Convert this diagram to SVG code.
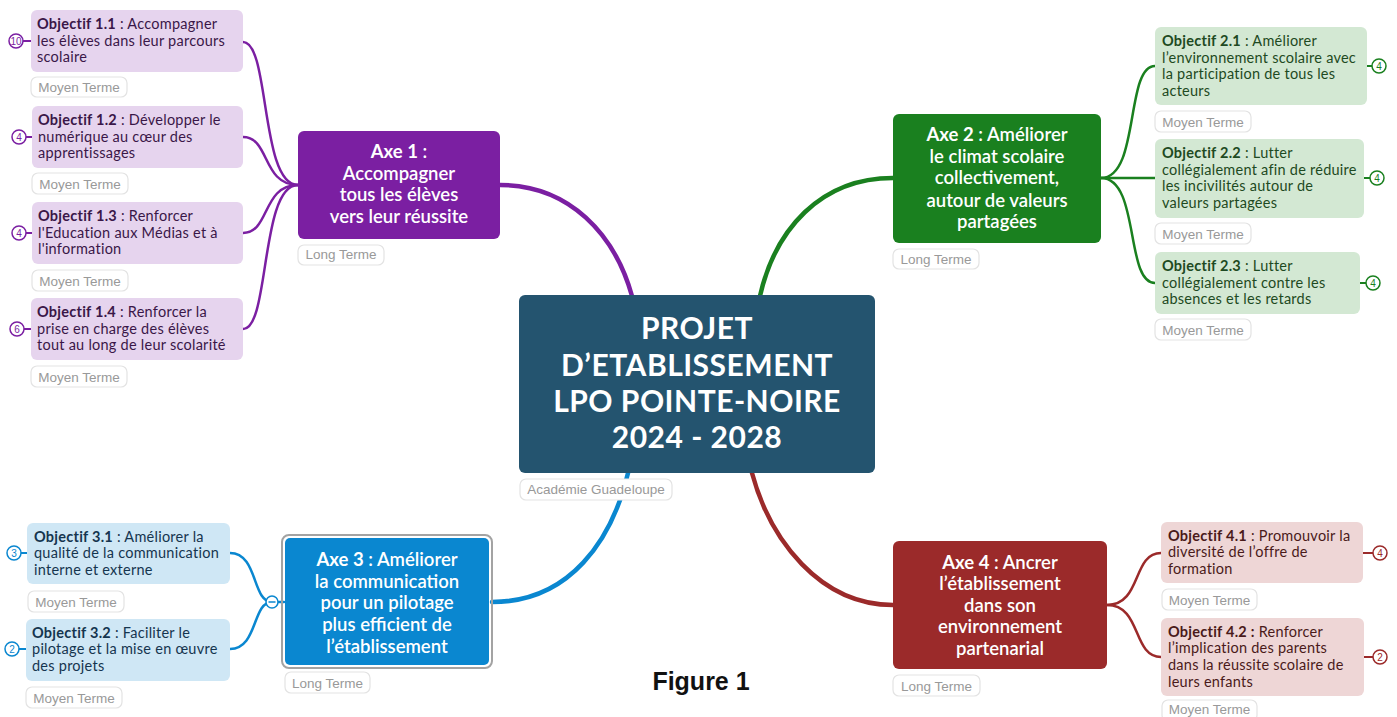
<svg xmlns="http://www.w3.org/2000/svg" width="1397" height="717" viewBox="0 0 1397 717">
<style>
.t{font-family:Lato,"Noto Sans",sans-serif}
.obj{font-family:Lato,"Noto Sans",sans-serif;font-size:14.5px;letter-spacing:0.25px}
.b{font-weight:700}
.tag rect{fill:#fff;stroke:#e3e3e3;stroke-width:1.2}
.tag text{font-family:"Liberation Sans",Arial,sans-serif;font-size:13.5px;fill:#999;text-anchor:middle}
.axe{font-family:Lato,"Noto Sans",sans-serif;font-size:18.5px;fill:#fff;text-anchor:middle;font-weight:600}
.badge circle{fill:#fff;stroke-width:1.5}
.badge text{font-family:"Liberation Sans",Arial,sans-serif;font-size:10px;text-anchor:middle}
.c{fill:none;stroke-linecap:round}
.p{stroke:#7b1fa2}.g{stroke:#1a801f}.bl{stroke:#0a87d0}.r{stroke:#9b2a2a}
.po{fill:#e6d4ee}.go{fill:#d3e8d3}.blo{fill:#cfe7f5}.ro{fill:#eed6d6}
.pt{fill:#3a1748}.gt{fill:#1e4a22}.blt{fill:#15354f}.rt{fill:#4a1a1a}
</style>
<rect width="1397" height="717" fill="#fff"/>
<g id="connectors">
<path class="c p" stroke-width="4.5" d="M500,185 C570,185 615,235 632,296"/>
<path class="c g" stroke-width="4.5" d="M760,296 C775,230 820,178 893,178"/>
<path class="c bl" stroke-width="4.5" d="M628,473 C612,540 570,602 492,602"/>
<path class="c r" stroke-width="4.5" d="M752,473 C770,540 820,605 893,605"/>
<path class="c p" stroke-width="2.5" d="M298,185 C260,185 270,42 243,42"/>
<path class="c p" stroke-width="2.5" d="M298,185 C262,185 270,137 243,137"/>
<path class="c p" stroke-width="2.5" d="M298,185 C262,185 270,233 243,233"/>
<path class="c p" stroke-width="2.5" d="M298,185 C260,185 270,329 243,329"/>
<path class="c g" stroke-width="2.5" d="M1101,178 C1140,178 1125,66 1155,66"/>
<path class="c g" stroke-width="2.5" d="M1101,178 L1155,178"/>
<path class="c g" stroke-width="2.5" d="M1101,178 C1140,178 1125,283 1155,283"/>
<path class="c bl" stroke-width="2.5" d="M272,602 C252,602 258,553 230,553"/>
<path class="c bl" stroke-width="2.5" d="M272,602 C252,602 258,649 230,649"/>
<path class="c bl" stroke-width="2.5" d="M278,602 L284,602"/>
<path class="c r" stroke-width="2.5" d="M1107,605 C1142,605 1132,553 1161,553"/>
<path class="c r" stroke-width="2.5" d="M1107,605 C1142,605 1132,657 1161,657"/>
</g>
<g id="center">
<rect x="519" y="295" width="356" height="178" rx="6" fill="#24546f"/>
<text class="t" font-size="30" font-weight="700" fill="#fff" text-anchor="middle" letter-spacing="0.5">
<tspan x="697" y="339">PROJET</tspan><tspan x="697" y="376">D’ETABLISSEMENT</tspan><tspan x="697" y="412">LPO POINTE-NOIRE</tspan><tspan x="697" y="448">2024 - 2028</tspan></text>
<g class="tag"><rect x="520" y="479" width="152" height="21" rx="6"/><text x="596" y="494">Académie Guadeloupe</text></g>
</g>
<g id="axe1">
<rect x="298" y="131" width="202" height="108" rx="6" fill="#7b1fa2"/>
<text class="axe"><tspan x="399" y="158"><tspan font-weight="700">Axe 1</tspan> :</tspan><tspan x="399" y="180">Accompagner</tspan><tspan x="399" y="201">tous les élèves</tspan><tspan x="399" y="223">vers leur réussite</tspan></text>
<g class="tag"><rect x="298" y="245" width="86" height="20" rx="6"/><text x="341" y="259">Long Terme</text></g>
</g>
<g id="obj11">
<rect class="po" x="31" y="10" width="212" height="62" rx="6"/>
<text class="obj pt"><tspan x="37" y="29"><tspan class="b">Objectif 1.1</tspan> : Accompagner</tspan><tspan x="37" y="46">les élèves dans leur parcours</tspan><tspan x="37" y="62">scolaire</tspan></text>
<g class="badge"><path d="M23,41 H31" stroke="#7b1fa2" stroke-width="2"/><circle cx="16" cy="41" r="7" stroke="#7b1fa2"/><text x="16" y="44.5" fill="#7b1fa2">10</text></g>
<g class="tag"><rect x="31" y="77" width="96" height="20" rx="6"/><text x="79" y="91.5">Moyen Terme</text></g>
</g>
<g id="obj12">
<rect class="po" x="32" y="106" width="211" height="62" rx="6"/>
<text class="obj pt"><tspan x="38" y="125"><tspan class="b">Objectif 1.2</tspan> : Développer le</tspan><tspan x="38" y="142">numérique au cœur des</tspan><tspan x="38" y="158">apprentissages</tspan></text>
<g class="badge"><path d="M26,137 H32" stroke="#7b1fa2" stroke-width="2"/><circle cx="19" cy="137" r="7" stroke="#7b1fa2"/><text x="19" y="140.5" fill="#7b1fa2">4</text></g>
<g class="tag"><rect x="32" y="173" width="96" height="21" rx="6"/><text x="80" y="188.5">Moyen Terme</text></g>
</g>
<g id="obj13">
<rect class="po" x="32" y="202" width="211" height="62" rx="6"/>
<text class="obj pt"><tspan x="38" y="221"><tspan class="b">Objectif 1.3</tspan> : Renforcer</tspan><tspan x="38" y="238">l'Education aux Médias et à</tspan><tspan x="38" y="254">l'information</tspan></text>
<g class="badge"><path d="M26,233 H32" stroke="#7b1fa2" stroke-width="2"/><circle cx="19" cy="233" r="7" stroke="#7b1fa2"/><text x="19" y="236.5" fill="#7b1fa2">4</text></g>
<g class="tag"><rect x="32" y="270" width="96" height="21" rx="6"/><text x="80" y="285.5">Moyen Terme</text></g>
</g>
<g id="obj14">
<rect class="po" x="31" y="298" width="212" height="62" rx="6"/>
<text class="obj pt"><tspan x="37" y="317"><tspan class="b">Objectif 1.4</tspan> : Renforcer la</tspan><tspan x="37" y="334">prise en charge des élèves</tspan><tspan x="37" y="350">tout au long de leur scolarité</tspan></text>
<g class="badge"><path d="M24,329 H31" stroke="#7b1fa2" stroke-width="2"/><circle cx="17" cy="329" r="7" stroke="#7b1fa2"/><text x="17" y="332.5" fill="#7b1fa2">6</text></g>
<g class="tag"><rect x="31" y="366" width="96" height="21" rx="6"/><text x="79" y="381.5">Moyen Terme</text></g>
</g>
<g id="axe2">
<rect x="893" y="114" width="208" height="129" rx="6" fill="#1a801f"/>
<text class="axe"><tspan x="997" y="141"><tspan font-weight="700">Axe 2</tspan> : Améliorer</tspan><tspan x="997" y="163">le climat scolaire</tspan><tspan x="997" y="184">collectivement,</tspan><tspan x="997" y="207">autour de valeurs</tspan><tspan x="997" y="228">partagées</tspan></text>
<g class="tag"><rect x="893" y="249" width="86" height="20" rx="6"/><text x="936" y="263.5">Long Terme</text></g>
</g>
<g id="obj21">
<rect class="go" x="1155" y="27" width="212" height="78" rx="6"/>
<text class="obj gt"><tspan x="1162" y="46"><tspan class="b">Objectif 2.1</tspan> : Améliorer</tspan><tspan x="1162" y="63">l’environnement scolaire avec</tspan><tspan x="1162" y="79">la participation de tous les</tspan><tspan x="1162" y="96">acteurs</tspan></text>
<g class="badge"><path d="M1367,66 H1372" stroke="#1a801f" stroke-width="2"/><circle cx="1379" cy="66" r="7" stroke="#1a801f"/><text x="1379" y="69.5" fill="#1a801f">4</text></g>
<g class="tag"><rect x="1155" y="111" width="96" height="21" rx="6"/><text x="1203" y="126.5">Moyen Terme</text></g>
</g>
<g id="obj22">
<rect class="go" x="1155" y="139" width="209" height="79" rx="6"/>
<text class="obj gt"><tspan x="1162" y="158"><tspan class="b">Objectif 2.2</tspan> : Lutter</tspan><tspan x="1162" y="175">collégialement afin de réduire</tspan><tspan x="1162" y="191">les incivilités autour de</tspan><tspan x="1162" y="208">valeurs partagées</tspan></text>
<g class="badge"><path d="M1364,178 H1370" stroke="#1a801f" stroke-width="2"/><circle cx="1377" cy="178" r="7" stroke="#1a801f"/><text x="1377" y="181.5" fill="#1a801f">4</text></g>
<g class="tag"><rect x="1155" y="223" width="96" height="21" rx="6"/><text x="1203" y="238.5">Moyen Terme</text></g>
</g>
<g id="obj23">
<rect class="go" x="1155" y="252" width="205" height="62" rx="6"/>
<text class="obj gt"><tspan x="1162" y="271"><tspan class="b">Objectif 2.3</tspan> : Lutter</tspan><tspan x="1162" y="288">collégialement contre les</tspan><tspan x="1162" y="304">absences et les retards</tspan></text>
<g class="badge"><path d="M1360,283 H1366" stroke="#1a801f" stroke-width="2"/><circle cx="1373" cy="283" r="7" stroke="#1a801f"/><text x="1373" y="286.5" fill="#1a801f">4</text></g>
<g class="tag"><rect x="1155" y="319" width="96" height="21" rx="6"/><text x="1203" y="334.5">Moyen Terme</text></g>
</g>
<g id="axe3">
<rect x="282" y="535" width="210" height="133" rx="7" fill="none" stroke="#a3a3a3" stroke-width="2"/>
<rect x="285" y="538" width="204" height="127" rx="5" fill="#0a87d0"/>
<text class="axe"><tspan x="387" y="566"><tspan font-weight="700">Axe 3</tspan> : Améliorer</tspan><tspan x="387" y="588">la communication</tspan><tspan x="387" y="609">pour un pilotage</tspan><tspan x="387" y="631">plus efficient de</tspan><tspan x="387" y="653">l’établissement</tspan></text>
<g class="tag"><rect x="285" y="672" width="85" height="21" rx="6"/><text x="327.5" y="687.5">Long Terme</text></g>
<circle cx="272" cy="602" r="6" fill="#fff" stroke="#0a87d0" stroke-width="1.5"/>
<path d="M268.5,602 H275.5" stroke="#0a87d0" stroke-width="1.5"/>
</g>
<g id="obj31">
<rect class="blo" x="27" y="523" width="203" height="61" rx="6"/>
<text class="obj blt"><tspan x="34" y="542"><tspan class="b">Objectif 3.1</tspan> : Améliorer la</tspan><tspan x="34" y="558">qualité de la communication</tspan><tspan x="34" y="575">interne et externe</tspan></text>
<g class="badge"><path d="M21,553 H27" stroke="#0a87d0" stroke-width="2"/><circle cx="14" cy="553" r="7" stroke="#0a87d0"/><text x="14" y="556.5" fill="#0a87d0">3</text></g>
<g class="tag"><rect x="28" y="591" width="96" height="21" rx="6"/><text x="76" y="606.5">Moyen Terme</text></g>
</g>
<g id="obj32">
<rect class="blo" x="26" y="619" width="204" height="62" rx="6"/>
<text class="obj blt"><tspan x="32" y="638"><tspan class="b">Objectif 3.2</tspan> : Faciliter le</tspan><tspan x="32" y="654">pilotage et la mise en œuvre</tspan><tspan x="32" y="671">des projets</tspan></text>
<g class="badge"><path d="M19,649 H26" stroke="#0a87d0" stroke-width="2"/><circle cx="12" cy="649" r="7" stroke="#0a87d0"/><text x="12" y="652.5" fill="#0a87d0">2</text></g>
<g class="tag"><rect x="26" y="687" width="96" height="21" rx="6"/><text x="74" y="702.5">Moyen Terme</text></g>
</g>
<g id="axe4">
<rect x="893" y="541" width="214" height="128" rx="6" fill="#9b2a2a"/>
<text class="axe"><tspan x="1000" y="569"><tspan font-weight="700">Axe 4</tspan> : Ancrer</tspan><tspan x="1000" y="590">l’établissement</tspan><tspan x="1000" y="612">dans son</tspan><tspan x="1000" y="633">environnement</tspan><tspan x="1000" y="655">partenarial</tspan></text>
<g class="tag"><rect x="893" y="675" width="87" height="21" rx="6"/><text x="936.5" y="690.5">Long Terme</text></g>
</g>
<g id="obj41">
<rect class="ro" x="1161" y="522" width="202" height="61" rx="6"/>
<text class="obj rt"><tspan x="1168" y="541"><tspan class="b">Objectif 4.1</tspan> : Promouvoir la</tspan><tspan x="1168" y="557">diversité de l’offre de</tspan><tspan x="1168" y="574">formation</tspan></text>
<g class="badge"><path d="M1363,553 H1373" stroke="#9b2a2a" stroke-width="2"/><circle cx="1380" cy="553" r="7" stroke="#9b2a2a"/><text x="1380" y="556.5" fill="#9b2a2a">4</text></g>
<g class="tag"><rect x="1162" y="589" width="95" height="21" rx="6"/><text x="1209.5" y="604.5">Moyen Terme</text></g>
</g>
<g id="obj42">
<rect class="ro" x="1161" y="618" width="203" height="78" rx="6"/>
<text class="obj rt"><tspan x="1168" y="637"><tspan class="b">Objectif 4.2 :</tspan> Renforcer</tspan><tspan x="1168" y="653">l’implication des parents</tspan><tspan x="1168" y="670">dans la réussite scolaire de</tspan><tspan x="1168" y="687">leurs enfants</tspan></text>
<g class="badge"><path d="M1364,657 H1373" stroke="#9b2a2a" stroke-width="2"/><circle cx="1380" cy="657" r="7" stroke="#9b2a2a"/><text x="1380" y="660.5" fill="#9b2a2a">2</text></g>
<g class="tag"><rect x="1162" y="700" width="95" height="21" rx="6"/><text x="1209.5" y="714">Moyen Terme</text></g>
</g>
<text x="701" y="690" font-family="'Liberation Sans',Arial,sans-serif" font-size="25" font-weight="700" fill="#111" text-anchor="middle">Figure 1</text>
</svg>
